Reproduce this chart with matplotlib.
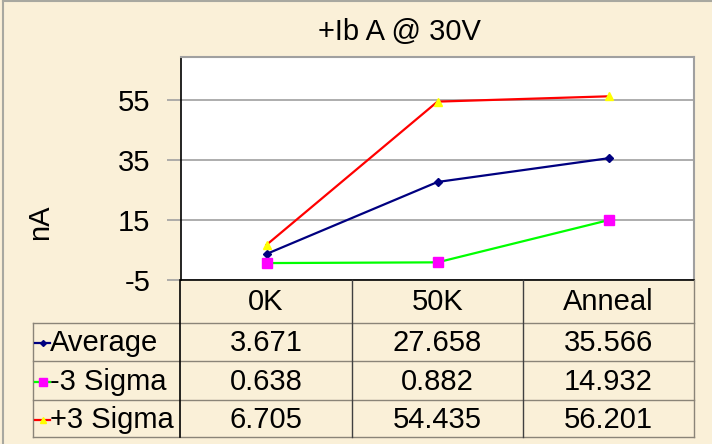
import matplotlib
matplotlib.use("Agg")
import matplotlib.pyplot as plt
from matplotlib.lines import Line2D

plt.rcParams['font.family'] = ['Liberation Sans', 'DejaVu Sans']

categories = ["0K", "50K", "Anneal"]
series_names = ["Average", "-3 Sigma", "+3 Sigma"]
average = [3.671, 27.658, 35.566]
minus3 = [0.638, 0.882, 14.932]
plus3 = [6.705, 54.435, 56.201]
value_labels = [["3.671", "27.658", "35.566"],
                ["0.638", "0.882", "14.932"],
                ["6.705", "54.435", "56.201"]]
yticks = [-5, 15, 35, 55]
title = "+Ib A @ 30V"
ylabel = "nA"

W, H = 712, 444
BG = "#faf0d8"
FS = 21

fig = plt.figure(figsize=(W / 100, H / 100), dpi=100)
fig.patch.set_facecolor(BG)

def fx(x):
    return x / W

def fy(y):
    return 1 - y / H

L, R, T, B = 181, 694, 57, 280
ax = fig.add_axes([fx(L), fy(B), (R - L) / W, (B - T) / H])
ax.set_facecolor("white")

styles = [
    dict(color="#000080", marker="D", markersize=4, markerfacecolor="#000080", markeredgecolor="#000080"),
    dict(color="#00ff00", marker="s", markersize=6.5, markerfacecolor="#ff00ff", markeredgecolor="#ff00ff"),
    dict(color="#ff0000", marker="^", markersize=6, markerfacecolor="#ffff00", markeredgecolor="#ffff00"),
]
data = [average, minus3, plus3]
xs = list(range(len(categories)))
for vals, st in zip(data, styles):
    ax.plot(xs, vals, linewidth=1.6, zorder=3, **st)

ax.set_xlim(-0.5, len(categories) - 0.5)
ax.set_ylim(-5, 69.3)
ax.set_yticks(yticks)
ax.set_yticklabels([str(t) for t in yticks], fontsize=FS)
ax.set_xticks([])
ax.yaxis.grid(True, color="#a0a0a0", linewidth=1.2)
ax.set_axisbelow(True)
ax.tick_params(axis='y', length=10, width=1.2, color="#a0a0a0", pad=12)
for s in ["top", "right"]:
    ax.spines[s].set_color("#a0a0a0")
    ax.spines[s].set_linewidth(1.5)
for s in ["left", "bottom"]:
    ax.spines[s].set_color("black")
    ax.spines[s].set_linewidth(1.2)

fig.text(fx(399), fy(32), title, fontsize=FS, ha="center", va="center")
fig.text(fx(40), fy(222), ylabel, fontsize=FS, ha="center", va="center", rotation=90)

# Data table
col_edges = [180, 352, 523, 694]
row_edges = [280, 323, 361, 400, 437]
tab_left = 33
lc = "#8a8478"

def hline(y, x0, x1, c=lc, lw=1.0):
    fig.add_artist(Line2D([fx(x0), fx(x1)], [fy(y), fy(y)], color=c, linewidth=lw))

def vline(x, y0, y1, c=lc, lw=1.0):
    fig.add_artist(Line2D([fx(x), fx(x)], [fy(y0), fy(y1)], color=c, linewidth=lw))

for y in row_edges[1:]:
    hline(y, tab_left, col_edges[-1])
vline(tab_left, row_edges[1], row_edges[-1])
vline(col_edges[0], row_edges[0], row_edges[-1], c="black", lw=1.2)
for x in col_edges[1:-1]:
    vline(x, row_edges[0], row_edges[-1], c="#404040")
vline(col_edges[-1], row_edges[0], row_edges[-1])

for j, cat in enumerate(categories):
    cx = (col_edges[j] + col_edges[j + 1]) / 2
    fig.text(fx(cx), fy(302), cat, fontsize=FS, ha="center", va="center")

for i, name in enumerate(series_names):
    cy = (row_edges[i + 1] + row_edges[i + 2]) / 2 + 1
    st = styles[i]
    fig.add_artist(Line2D([fx(35), fx(50)], [fy(cy), fy(cy)], color=st["color"], linewidth=1.6))
    fig.add_artist(Line2D([fx(42.5)], [fy(cy)], linestyle="none", marker=st["marker"],
                          markersize=st["markersize"] - 1, markerfacecolor=st["markerfacecolor"],
                          markeredgecolor=st["markeredgecolor"]))
    fig.text(fx(50), fy(cy), name, fontsize=FS, ha="left", va="center")
    for j in range(len(categories)):
        cx = (col_edges[j] + col_edges[j + 1]) / 2
        fig.text(fx(cx), fy(cy), value_labels[i][j], fontsize=FS, ha="center", va="center")

# outer border
hline(1, 3, W, c="#a8a8a0", lw=1.5)
vline(3, 1, H, c="#a8a8a0", lw=1.5)

fig.savefig("out.png", dpi=100, facecolor=BG)
